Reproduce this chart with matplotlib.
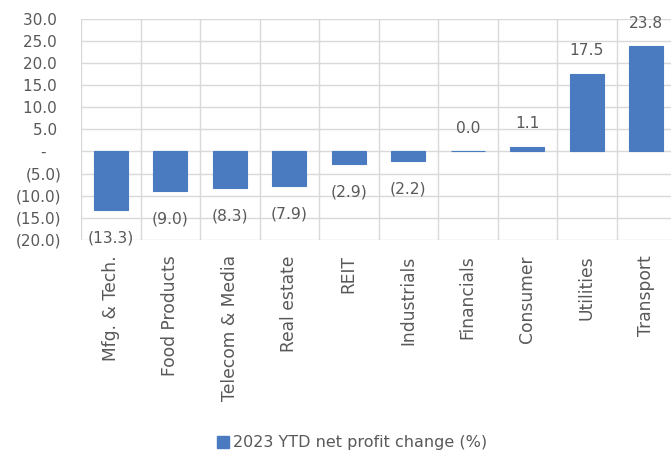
import matplotlib
matplotlib.use("Agg")
import matplotlib.pyplot as plt
from matplotlib.patches import Rectangle

categories = ["Mfg. & Tech.", "Food Products", "Telecom & Media", "Real estate", "REIT",
              "Industrials", "Financials", "Consumer", "Utilities", "Transport"]
values = [-13.3, -9.0, -8.3, -7.9, -2.9, -2.2, 0.0, 1.1, 17.5, 23.8]
series_name = "2023 YTD net profit change (%)"
y_ticks = [30, 25, 20, 15, 10, 5, 0, -5, -10, -15, -20]

BAR = "#4A7BC0"
TEXT = "#595959"
GRID = "#D9D9D9"

plt.rcParams["font.family"] = ["DejaVu Sans"]

def label_fmt(v):
    if v < 0:
        return f"({abs(v):.1f})"
    return f"{v:.1f}"

def tick_fmt(v):
    if abs(v) < 1e-9:
        return "-   "
    if v < 0:
        return f"({abs(v):.1f})"
    return f"{v:.1f} "

fig = plt.figure(figsize=(6.71, 4.55), dpi=100)
ax = fig.add_axes([81 / 671, 215 / 455, 595 / 671, 221.5 / 455])

x = list(range(len(categories)))
ax.bar(x, values, width=0.57, color=BAR, edgecolor=BAR, linewidth=0.8, zorder=3)

for xi, v in zip(x, values):
    off = -20 if v < 0 else 16.5
    ax.annotate(label_fmt(v), (xi, v), xytext=(0, off), textcoords="offset points",
                ha="center", va="center", fontsize=11.2, color=TEXT)

ax.set_xlim(-0.5, len(categories) - 0.5)
ax.set_ylim(-20, 30)
ax.set_yticks(y_ticks)
ax.set_yticklabels([tick_fmt(t) for t in y_ticks], fontsize=11, color=TEXT)
ax.set_xticks(x)
ax.set_xticklabels(categories, rotation=90, fontsize=12.3, color=TEXT)
ax.tick_params(axis="both", length=0)
ax.tick_params(axis="y", pad=14)
ax.tick_params(axis="x", pad=11)

ax.grid(axis="y", color=GRID, linewidth=1, zorder=0)
ax.set_xticks([i - 0.5 for i in range(len(categories) + 1)], minor=True)
ax.tick_params(axis="x", which="minor", length=0)
ax.grid(axis="x", which="minor", color=GRID, linewidth=1, zorder=0)
ax.grid(axis="x", which="major", visible=False)
for s in ax.spines.values():
    s.set_visible(False)

handle = Rectangle((0, 0), 1, 1, color=BAR)
fig.legend([handle], [series_name], loc="center", bbox_to_anchor=(352 / 671, 1 - 443 / 455),
           frameon=False, fontsize=11.5, handlelength=0.75, handleheight=0.75, handletextpad=0.25,
           labelcolor=TEXT)

fig.savefig("out.png", dpi=100)
